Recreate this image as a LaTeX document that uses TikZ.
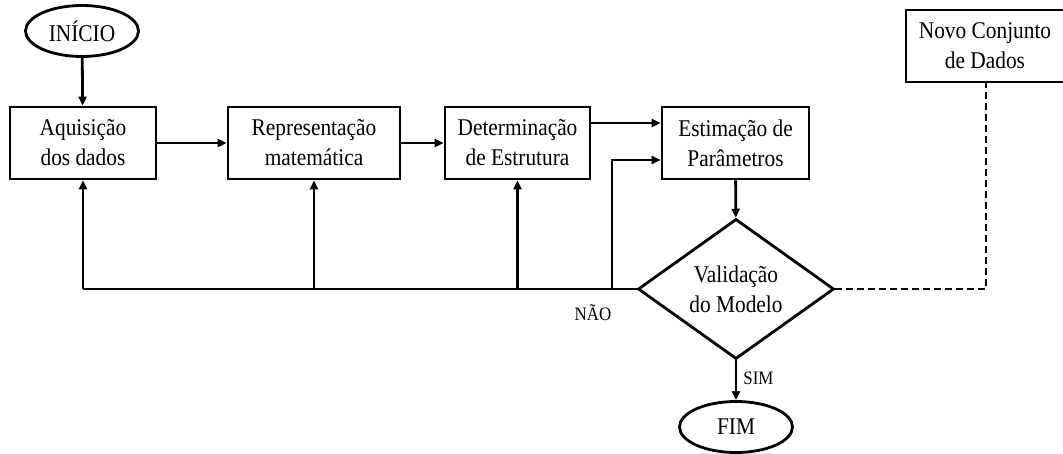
\documentclass[tikz,border=0pt]{standalone}
\usepackage{fontspec}
\setmainfont{Liberation Serif}[FakeStretch=0.89]
\usetikzlibrary{shapes.geometric,arrows.meta}
\begin{document}
\begin{tikzpicture}[x=1pt,y=-1pt,
  every node/.style={font=\fontsize{24}{30}\selectfont, align=center, inner sep=0pt},
  stepbox/.style={draw, line width=2.8pt, minimum height=72pt},
  term/.style={draw, ellipse, line width=2.8pt, minimum width=113pt, minimum height=51pt},
  dec/.style={draw, diamond, line width=2.8pt, minimum width=196pt, minimum height=132pt},
  conn/.style={line width=2.8pt},
  arr/.style={line width=2.8pt, -{Triangle[length=9pt,width=8pt]}},
  lbl/.style={font=\fontsize{19}{22}\selectfont}]
\useasboundingbox (0,0) rectangle (1063,454);
\node[term] (ini) at (82,31) {INÍCIO};
\node[stepbox, minimum width=146pt] (aq) at (83,143) {Aquisição\\dos dados};
\node[stepbox, minimum width=172pt] (rep) at (314,143) {Representação\\matemática};
\node[stepbox, minimum width=145pt] (det) at (517.5,143) {Determinação\\de Estrutura};
\node[stepbox, minimum width=147pt] (est) at (735.5,143) {Estimação de\\Parâmetros};
\node[dec] (val) at (736,289) {Validação\\do Modelo};
\node[term] (fim) at (736,427) {FIM};
\node[draw, line width=1.2pt, minimum width=158pt, minimum height=72pt] (novo) at (985,46) {Novo Conjunto\\de Dados};
\coordinate (fbl) at (83,289);
\coordinate (fbr) at (612,289);
\coordinate (fbrup) at (612,160);
\coordinate (dashc) at (986,289);

\draw[arr] (ini) -- (aq);
\draw[arr] (aq) -- (rep);
\draw[arr] (rep) -- (det);
\draw[arr] (det.east |- 0,123) -- (est.west |- 0,123);
\draw[arr] (est) -- (val);
\draw[arr] (val) -- node[lbl, right=6pt, pos=0.45] {SIM} (fim);
\draw[conn] (val.west) -- (fbl);
\draw[arr] (fbl) -- (aq.south);
\draw[arr] (rep.south |- fbl) -- (rep.south);
\draw[arr] (det.south |- fbl) -- (det.south);
\draw[arr] (fbr) -- (fbrup) -- (est.west |- fbrup);
\node[lbl] (nao) at (593,313) {NÃO};
\draw[conn, dashed, dash pattern=on 7pt off 4pt] (val.east) -- (dashc) -- (novo.south -| dashc);
\end{tikzpicture}
\end{document}
